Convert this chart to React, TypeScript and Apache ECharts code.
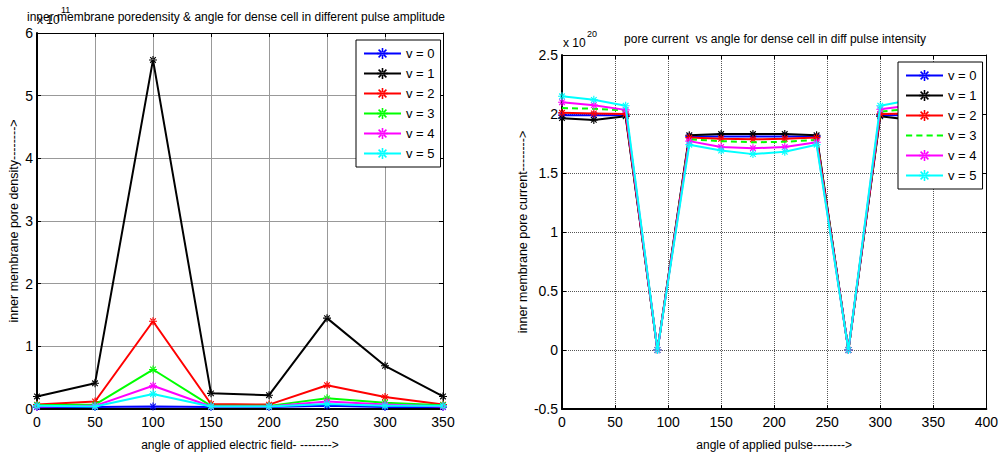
import React, { useEffect, useRef } from "react";
import * as echarts from "echarts";

// Left chart: pore density (x 1e11) vs angle
const leftAngles = [0, 50, 100, 150, 200, 250, 300, 350];
const leftV0 = [0.03, 0.03, 0.04, 0.03, 0.03, 0.05, 0.03, 0.03];
const leftV1 = [0.2, 0.41, 5.57, 0.25, 0.22, 1.45, 0.69, 0.2];
const leftV2 = [0.07, 0.12, 1.4, 0.08, 0.07, 0.38, 0.19, 0.07];
const leftV3 = [0.06, 0.07, 0.63, 0.05, 0.05, 0.17, 0.1, 0.06];
const leftV4 = [0.04, 0.05, 0.37, 0.04, 0.04, 0.12, 0.07, 0.04];
const leftV5 = [0.05, 0.04, 0.24, 0.04, 0.04, 0.08, 0.05, 0.05];

// Right chart: pore current (x 1e20) vs angle
const rightAngles = [0, 30, 60, 90, 120, 150, 180, 210, 240, 270, 300, 330, 360];
const rightV0 = [1.99, 1.99, 1.99, 0, 1.81, 1.81, 1.81, 1.81, 1.81, 0, 1.99, 1.99, 1.99];
const rightV1 = [1.965, 1.95, 1.98, 0, 1.82, 1.83, 1.83, 1.83, 1.82, 0, 1.98, 1.95, 1.965];
const rightV2 = [2.01, 2.005, 2.0, 0, 1.8, 1.79, 1.785, 1.79, 1.8, 0, 2.0, 2.005, 2.01];
const rightV3 = [2.05, 2.045, 2.03, 0, 1.785, 1.77, 1.76, 1.765, 1.78, 0, 2.02, 2.045, 2.05];
const rightV4 = [2.1, 2.075, 2.035, 0, 1.77, 1.72, 1.71, 1.72, 1.76, 0, 2.04, 2.075, 2.1];
const rightV5 = [2.15, 2.12, 2.07, 0, 1.74, 1.69, 1.66, 1.68, 1.74, 0, 2.07, 2.12, 2.15];

const seriesNames = ["v = 0", "v = 1", "v = 2", "v = 3", "v = 4", "v = 5"];
const seriesColors = ["#0000ff", "#000000", "#ff0000", "#00ff00", "#ff00ff", "#00ffff"];

const STAR =
  "path://M-0.7,-5 L0.7,-5 L0.7,5 L-0.7,5 Z M-5,-0.7 L5,-0.7 L5,0.7 L-5,0.7 Z " +
  "M-3,-4 L-4,-3 L3,4 L4,3 Z M-4,3 L-3,4 L4,-3 L3,-4 Z";
const DASH_ICON = "path://M0,0 L6,0 L6,2 L0,2 Z M10,0 L16,0 L16,2 L10,2 Z M20,0 L26,0 L26,2 L20,2 Z M30,0 L36,0 L36,2 L30,2 Z";

const FONT = "Liberation Sans, Arial, sans-serif";

function pairs(xs: number[], ys: number[]) {
  return xs.map((x, i) => [x, ys[i]]);
}

export default function App() {
  const ref = useRef<HTMLDivElement>(null);

  useEffect(() => {
    if (!ref.current) return;
    const chart = echarts.init(ref.current, null, { renderer: "svg" });

    const leftData = [leftV0, leftV1, leftV2, leftV3, leftV4, leftV5];
    const rightData = [rightV0, rightV1, rightV2, rightV3, rightV4, rightV5];

    const series: any[] = [];
    leftData.forEach((d, i) => {
      series.push({
        name: seriesNames[i],
        type: "line",
        xAxisIndex: 0,
        yAxisIndex: 0,
        data: pairs(leftAngles, d),
        symbol: STAR,
        symbolSize: 8,
        showAllSymbol: true,
        lineStyle: { color: seriesColors[i], width: 2 },
        itemStyle: { color: seriesColors[i] },
        z: 3 + i,
      });
    });
    rightData.forEach((d, i) => {
      const dashed = i === 3;
      series.push({
        name: "r:" + seriesNames[i],
        type: "line",
        xAxisIndex: 2,
        yAxisIndex: 2,
        data: pairs(rightAngles, d),
        symbol: dashed ? "none" : STAR,
        symbolSize: 8,
        showAllSymbol: true,
        lineStyle: { color: seriesColors[i], width: 2, type: dashed ? [6, 4] : "solid" },
        itemStyle: { color: seriesColors[i] },
        z: 3 + i,
      });
    });

    const axisLabel = { color: "#000", fontSize: 14, fontFamily: FONT };
    const nameStyleX = { color: "#000", fontSize: 12, fontFamily: FONT };
    const nameStyleY = { color: "#000", fontSize: 12.5, fontFamily: FONT };

    const mainX = (grid: number, max: number, name: string, gridColor: string, gridType: any) => ({
      type: "value",
      gridIndex: grid,
      min: 0,
      max,
      interval: 50,
      name,
      nameLocation: "middle",
      nameGap: 30,
      nameTextStyle: nameStyleX,
      axisLine: { show: true, onZero: false, lineStyle: { color: "#000", width: 2 } },
      axisTick: { show: true, inside: true, length: 4, lineStyle: { color: "#000" } },
      axisLabel: { ...axisLabel, margin: 6 },
      splitLine: { show: true, lineStyle: { color: gridColor, width: 1, type: gridType } },
    });
    const topX = (grid: number, max: number) => ({
      type: "value",
      gridIndex: grid,
      position: "top",
      min: 0,
      max,
      interval: 50,
      axisLine: { show: true, onZero: false, lineStyle: { color: "#000", width: 1 } },
      axisTick: { show: true, inside: true, length: 4, lineStyle: { color: "#000" } },
      axisLabel: { show: false },
      splitLine: { show: false },
    });
    const mainY = (grid: number, min: number, max: number, interval: number, name: string, gridColor: string, gridType: any, gap: number) => ({
      type: "value",
      gridIndex: grid,
      min,
      max,
      interval,
      name,
      nameLocation: "middle",
      nameGap: gap,
      nameTextStyle: nameStyleY,
      axisLine: { show: true, onZero: false, lineStyle: { color: "#000", width: 2 } },
      axisTick: { show: true, inside: true, length: 4, lineStyle: { color: "#000" } },
      axisLabel: { ...axisLabel, margin: 4 },
      splitLine: { show: true, lineStyle: { color: gridColor, width: 1, type: gridType } },
    });
    const rightY = (grid: number, min: number, max: number, interval: number) => ({
      type: "value",
      gridIndex: grid,
      position: "right",
      min,
      max,
      interval,
      axisLine: { show: true, onZero: false, lineStyle: { color: "#000", width: 1 } },
      axisTick: { show: true, inside: true, length: 4, lineStyle: { color: "#000" } },
      axisLabel: { show: false },
      splitLine: { show: false },
    });

    const legendBase = {
      orient: "vertical",
      backgroundColor: "#fff",
      borderColor: "#000",
      borderWidth: 1,
      borderRadius: 0,
      padding: [7, 6, 7, 7],
      itemGap: 7,
      itemWidth: 37,
      itemHeight: 14,
      z: 30,
      textStyle: { color: "#000", fontSize: 13, fontFamily: FONT },
    };

    chart.setOption({
      animation: false,
      backgroundColor: "#fff",
      grid: [
        { left: 37, top: 33, width: 406, height: 380, containLabel: false },
        { left: 562, top: 55, width: 426, height: 361, containLabel: false },
      ],
      xAxis: [
        mainX(0, 350, "angle of applied electric field- -------->", "#999", "solid"),
        topX(0, 350),
        mainX(1, 400, "angle of applied pulse-------->", "#555", "dotted"),
        topX(1, 400),
      ],
      yAxis: [
        mainY(0, 0, 6, 1, "inner membrane pore density-------->", "#999", "solid", 17),
        rightY(0, 0, 6, 1),
        mainY(1, -0.5, 2.5, 0.5, "inner membrane pore current-------->", "#555", "dotted", 32),
        rightY(1, -0.5, 2.5, 0.5),
      ],
      legend: [
        { ...legendBase, left: 356, top: 40, data: seriesNames },
        {
          ...legendBase,
          left: 898,
          top: 62,
          data: seriesNames.map((n, i) =>
            i === 3
              ? { name: "r:" + n, icon: DASH_ICON, itemStyle: { color: seriesColors[i] } }
              : "r:" + n
          ),
          formatter: (n: string) => n.replace("r:", ""),
        },
      ],
      graphic: [
        { type: "text", left: 37, top: 14, style: { text: "x 10", fontSize: 12, fontFamily: FONT, fill: "#000" }, z: 10 },
        { type: "text", left: 61, top: 5, style: { text: "11", fontSize: 9, fontFamily: FONT, fill: "#000" }, z: 10 },
        {
          type: "text",
          x: 236,
          y: 11,
          style: {
            text: "inner membrane poredensity & angle for dense cell in different pulse amplitude",
            fontSize: 12,
            fontFamily: FONT,
            fill: "#000",
            textAlign: "center",
          },
          z: 10,
        },
        { type: "text", left: 563, top: 37, style: { text: "x 10", fontSize: 12, fontFamily: FONT, fill: "#000" }, z: 10 },
        { type: "text", left: 587, top: 29, style: { text: "20", fontSize: 9, fontFamily: FONT, fill: "#000" }, z: 10 },
        {
          type: "text",
          x: 775,
          y: 33,
          style: {
            text: "pore current  vs angle for dense cell in diff pulse intensity",
            fontSize: 12,
            fontFamily: FONT,
            fill: "#000",
            textAlign: "center",
          },
          z: 10,
        },
      ],
      series,
    });

    return () => chart.dispose();
  }, []);

  return <div ref={ref} style={{ width: 1001, height: 456, position: "absolute", left: 0, top: 0 }} />;
}
